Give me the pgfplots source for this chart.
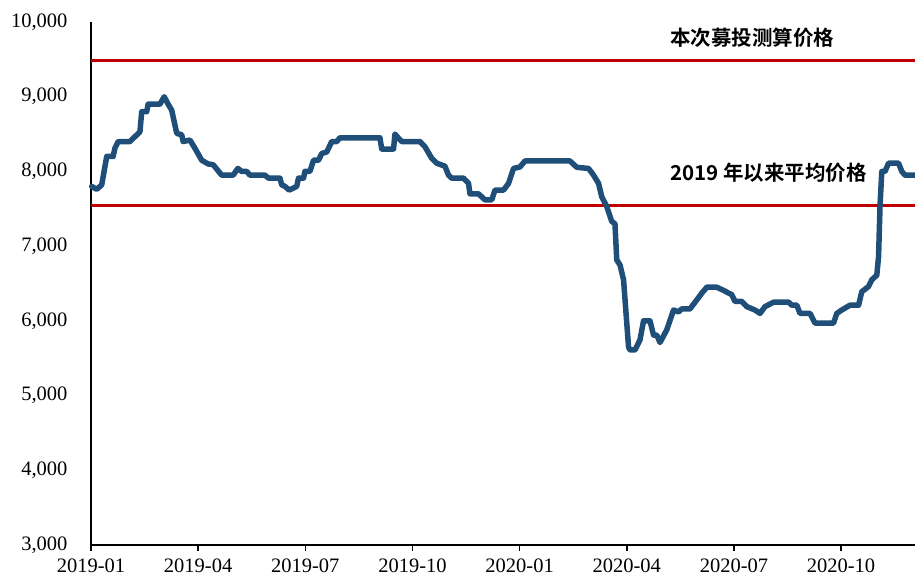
\documentclass[border=0pt]{standalone}
\usepackage{pgfplots}
\pgfplotsset{compat=1.18}
\usepackage{fontspec}
\setmainfont{Liberation Serif}
\newfontfamily\cjk{Noto Sans CJK SC}[BoldFont={Noto Sans CJK SC Bold}]
\definecolor{lineblue}{RGB}{31,78,121}
\definecolor{refred}{RGB}{192,0,0}
\begin{document}
\begin{tikzpicture}
\path[use as bounding box] (-91pt,-38pt) rectangle (824pt,545pt);
\begin{axis}[
  at={(0,0)}, anchor=south west,
  scale only axis, width=824pt, height=523pt,
  xmin=0, xmax=23.07, ymin=3000, ymax=10000,
  axis lines*=left,
  axis line style={-, line width=1.8pt, black},
  xtick={0,3,6,9,12,15,18,21},
  xticklabels={2019-01,2019-04,2019-07,2019-10,2020-01,2020-04,2020-07,2020-10},
  ytick={3000,4000,5000,6000,7000,8000,9000,10000},
  yticklabels={{3,000},{4,000},{5,000},{6,000},{7,000},{8,000},{9,000},{10,000}},
  scaled y ticks=false, scaled x ticks=false,
  tick align=outside,
  major tick length=6pt,
  xtick style={line width=1.5pt, black},
  ytick style={draw=none},
  ticklabel style={font=\fontsize{20.5}{24}\selectfont},
  yticklabel style={xshift=-14pt},
  xticklabel style={yshift=-4pt},
  clip=false,
]
\addplot[refred, line width=3pt] coordinates {(0,9480) (23.07,9480)};
\addplot[refred, line width=3pt] coordinates {(0,7540) (23.07,7540)};
\addplot[lineblue, line width=5.5pt, line join=round, line cap=round] coordinates {
(0.02,7800) (0.16,7760) (0.30,7820) (0.44,8200) (0.62,8200) (0.67,8310) (0.76,8400)
(1.09,8400) (1.37,8530) (1.42,8800) (1.56,8800) (1.60,8900) (1.93,8900) (2.05,9000)
(2.16,8900) (2.26,8820) (2.40,8510) (2.54,8490) (2.58,8400) (2.77,8420) (2.91,8310)
(3.10,8150) (3.28,8100) (3.42,8090) (3.66,7950) (3.98,7950) (4.11,8040) (4.22,8000)
(4.36,8000) (4.45,7950) (4.87,7950) (4.97,7910) (5.29,7910) (5.34,7820) (5.43,7800)
(5.55,7750) (5.76,7800) (5.81,7910) (5.95,7910) (5.99,8000) (6.13,8000) (6.23,8150)
(6.37,8150) (6.46,8240) (6.60,8260) (6.74,8400) (6.88,8400) (6.97,8450) (8.09,8450)
(8.14,8300) (8.47,8300) (8.51,8500) (8.60,8450) (8.70,8400) (9.21,8400) (9.35,8330)
(9.54,8175) (9.68,8110) (9.91,8070) (10.01,7950) (10.10,7910) (10.43,7910) (10.57,7840)
(10.61,7700) (10.85,7700) (11.03,7620) (11.22,7620) (11.31,7750) (11.55,7750) (11.69,7840)
(11.83,8040) (12.01,8060) (12.15,8140) (13.41,8140) (13.60,8055) (13.93,8040) (14.07,7950)
(14.21,7840) (14.30,7660) (14.44,7530) (14.58,7330) (14.67,7300) (14.72,6815) (14.81,6750)
(14.91,6550) (15.05,5650) (15.09,5610) (15.23,5610) (15.37,5745) (15.47,6000) (15.65,6000)
(15.75,5810) (15.84,5810) (15.93,5710) (16.12,5880) (16.31,6145) (16.45,6120) (16.54,6160)
(16.77,6160) (16.96,6280) (17.10,6370) (17.24,6450) (17.52,6450) (17.70,6410) (17.94,6350)
(18.03,6260) (18.22,6260) (18.36,6190) (18.59,6145) (18.73,6100) (18.87,6190) (19.11,6250)
(19.53,6250) (19.62,6210) (19.76,6210) (19.85,6100) (20.13,6100) (20.27,5970) (20.79,5970)
(20.88,6100) (21.02,6145) (21.25,6210) (21.49,6210) (21.58,6390) (21.77,6460) (21.86,6550)
(22.00,6610) (22.05,6860) (22.09,7530) (22.14,8000) (22.23,8000) (22.33,8110) (22.61,8110)
(22.70,8000) (22.79,7950) (23.07,7950)
};
\node[anchor=west, inner sep=0pt, font=\cjk\bfseries\fontsize{20.5}{24}\selectfont] at (axis cs:16.21,9786) {本次募投测算价格};
\node[anchor=west, inner sep=0pt, font=\cjk\bfseries\fontsize{20.5}{24}\selectfont] at (axis cs:16.21,7979) {2019 年以来平均价格};
\end{axis}
\end{tikzpicture}
\end{document}
